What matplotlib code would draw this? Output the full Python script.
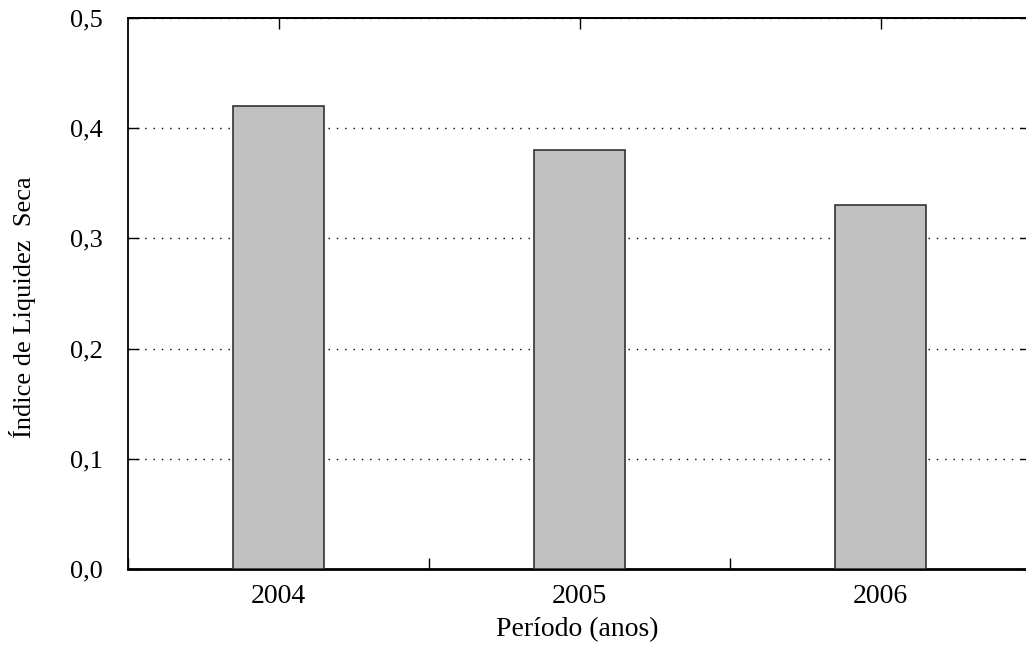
import matplotlib.pyplot as plt
from matplotlib.ticker import FuncFormatter, MultipleLocator

years = ["2004", "2005", "2006"]
liquidez_seca = [0.42, 0.38, 0.33]
y_ticks = [0.0, 0.1, 0.2, 0.3, 0.4, 0.5]

plt.rcParams["font.family"] = ["Liberation Serif", "DejaVu Serif"]

fig = plt.figure(figsize=(10.26, 6.47), dpi=100)
ax = fig.add_axes([128 / 1026, 1 - 569 / 647, 903 / 1026, 551 / 647])

x = range(len(years))
ax.bar(x, liquidez_seca, width=0.3, color="#c0c0c0", edgecolor="#333333", linewidth=1.2, zorder=3)

ax.set_xlim(-0.5, len(years) - 0.5)
ax.set_ylim(0, 0.5)
ax.set_yticks(y_ticks)
ax.yaxis.set_major_formatter(FuncFormatter(lambda v, _: f"{v:.1f}".replace(".", ",")))
ax.grid(axis="y", linestyle=(0, (1, 5)), color="black", linewidth=1.0, zorder=1)

# category labels under the bars, small ticks between categories
ax.set_xticks(list(x))
ax.set_xticklabels(years)
ax.xaxis.set_minor_locator(MultipleLocator(1, offset=0.5))
ax.tick_params(axis="x", which="major", length=0, pad=11, labelsize=20)
ax.tick_params(axis="x", which="minor", direction="in", length=8, width=1, bottom=True, top=False)
ax.tick_params(axis="y", direction="in", length=8, width=1, right=True, labelsize=19, pad=18)

# top axis carries ticks at the category centres
top = ax.secondary_xaxis("top")
top.set_xticks(list(x))
top.tick_params(direction="in", length=8, width=1, labeltop=False)
top.spines["top"].set_linewidth(1.3)

for name in ["top", "left", "right"]:
    ax.spines[name].set_linewidth(1.3)
ax.spines["bottom"].set_linewidth(2.0)

ax.set_xlabel("Período (anos)", fontsize=20)
ax.xaxis.set_label_coords(0.498, -0.088)
ax.set_ylabel("Índice de Liquidez  Seca", fontsize=19)
ax.yaxis.set_label_coords(-0.102, 0.475)

fig.savefig("out.png", dpi=100)
